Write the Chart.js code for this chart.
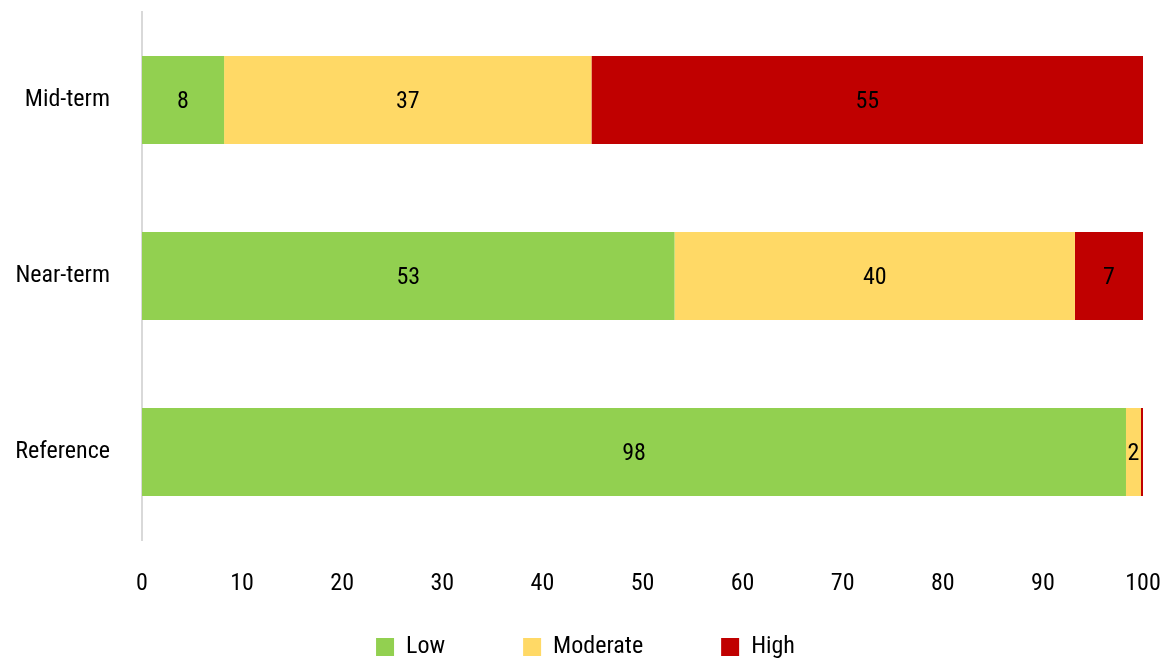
<!DOCTYPE html>
<html>
<head>
<meta charset="utf-8">
<script src="https://cdn.jsdelivr.net/npm/chart.js@4"></script>
<style>
  html, body { margin: 0; padding: 0; background: #fff; }
  #wrap { width: 1165px; height: 659px; }
</style>
</head>
<body>
<div id="wrap"><canvas id="chart-risk" width="1165" height="659"></canvas></div>
<script>
// values (percent of each row)
var categories = ['Mid-term', 'Near-term', 'Reference'];
var lowValues = [8.2, 53.2, 98.3];
var moderateValues = [36.7, 40.0, 1.5];
var highValues = [55.1, 6.8, 0.2];
var xTicks = [0, 10, 20, 30, 40, 50, 60, 70, 80, 90, 100];

var FONT = "'Roboto Condensed', 'Liberation Sans Narrow', 'DejaVu Sans Condensed', Roboto, sans-serif";
Chart.defaults.font.family = FONT;
Chart.defaults.color = '#000';

// draws the rounded value in the middle of each piece
var barLabels = {
    id: 'barLabels',
    afterDatasetsDraw: function (chart) {
        var ctx = chart.ctx;
        ctx.save();
        ctx.font = '24px ' + FONT;
        ctx.fillStyle = '#000';
        ctx.textAlign = 'center';
        ctx.textBaseline = 'middle';
        chart.data.datasets.forEach(function (ds, i) {
            var meta = chart.getDatasetMeta(i);
            meta.data.forEach(function (bar, j) {
                var v = Math.round(ds.data[j]);
                if (v < 1) return;
                ctx.fillText(String(v), (bar.x + bar.base) / 2, bar.y + 2);
            });
        });
        ctx.restore();
    }
};

// legend keeps its wide item spacing, but takes little room in the layout;
// it is moved into place once the layout is done
var legendPlace = {
    id: 'legendPlace',
    beforeLayout: function (chart) {
        var lg = chart.legend;
        if (!lg || lg._patched) return;
        var fit = lg.fit;
        lg.fit = function () {
            fit.call(this);
            this.height = 40;
        };
        lg._patched = true;
    },
    afterLayout: function (chart) {
        var lg = chart.legend;
        if (!lg) return;
        lg.left = 28;
        lg.right = 1143;
        lg.top = 557;
        lg.bottom = 659;
    }
};

var ctx = document.getElementById('chart-risk').getContext('2d');
var myChart = new Chart(ctx, {
    type: 'bar',
    data: {
        labels: categories,
        datasets: [
            { label: 'Low', data: lowValues, backgroundColor: '#92D050' },
            { label: 'Moderate', data: moderateValues, backgroundColor: '#FFD966' },
            { label: 'High', data: highValues, backgroundColor: '#C00000' }
        ]
    },
    options: {
        indexAxis: 'y',
        responsive: false,
        animation: false,
        maintainAspectRatio: false,
        layout: { padding: { top: 12, right: 22, left: 0, bottom: 0 } },
        datasets: { bar: { barPercentage: 0.5, categoryPercentage: 1.0, borderWidth: 0 } },
        scales: {
            x: {
                stacked: true,
                min: 0,
                max: 100,
                afterBuildTicks: function (scale) {
                    scale.ticks = xTicks.map(function (v) { return { value: v }; });
                },
                afterFit: function (scale) {
                    scale.height = 79;
                    scale.paddingLeft = 0;
                    scale.paddingRight = 0;
                },
                grid: { display: false, drawTicks: false },
                border: { display: false },
                ticks: { font: { size: 24 }, padding: 30, maxRotation: 0 }
            },
            y: {
                stacked: true,
                afterFit: function (scale) {
                    scale.width = 142;
                    scale.paddingTop = 0;
                    scale.paddingBottom = 0;
                },
                grid: { display: false, drawTicks: false },
                border: { display: true, color: '#d9d9d9', width: 2 },
                ticks: { font: { size: 24 }, padding: 32 }
            }
        },
        plugins: {
            legend: {
                position: 'bottom',
                labels: {
                    boxWidth: 18,
                    boxHeight: 18,
                    padding: 78,
                    font: { size: 24 },
                    color: '#000'
                }
            },
            tooltip: { enabled: false }
        }
    },
    plugins: [barLabels, legendPlace]
});
</script>
</body>
</html>
